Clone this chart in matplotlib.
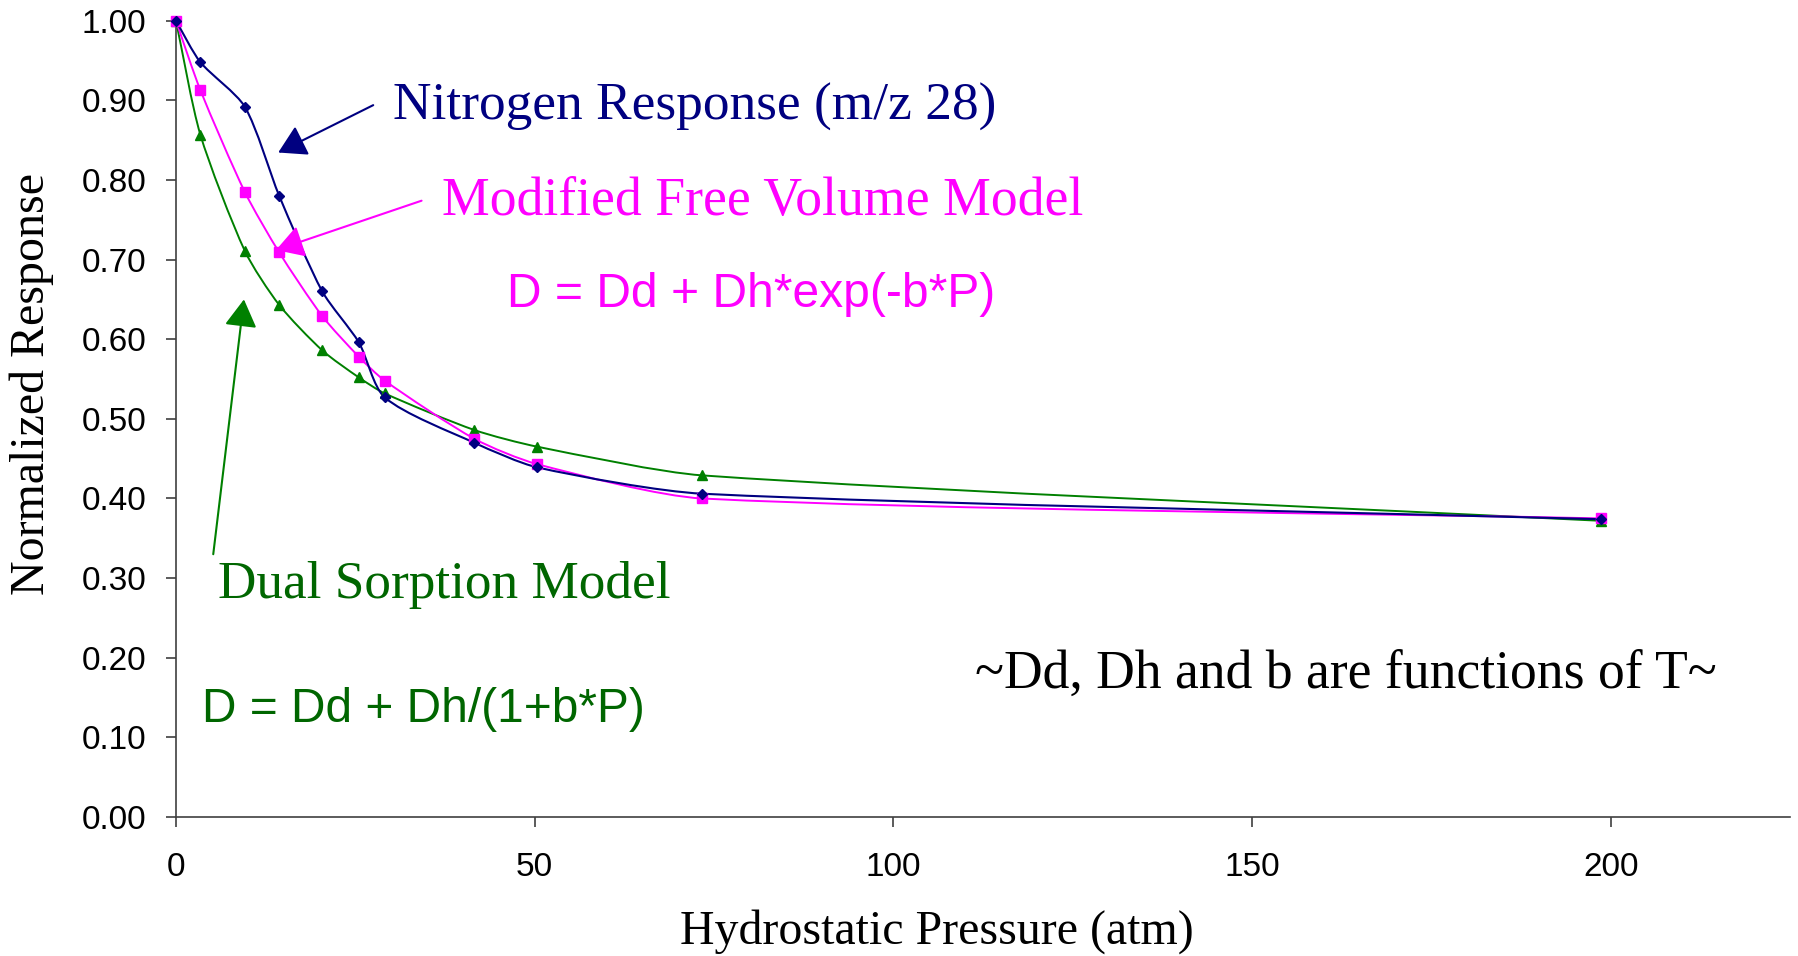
import matplotlib
matplotlib.use("Agg")
import matplotlib.pyplot as plt
import numpy as np
from matplotlib.path import Path
from matplotlib.patches import PathPatch

# --- data ---
pressure = [0, 3.4, 9.6, 14.4, 20.4, 25.5, 29.1, 41.6, 50.4, 73.4, 198.6]
nitrogen = [1.000, 0.948, 0.892, 0.780, 0.660, 0.596, 0.527, 0.470, 0.439, 0.406, 0.374]
free_volume = [1.000, 0.913, 0.785, 0.709, 0.629, 0.578, 0.548, 0.475, 0.443, 0.400, 0.375]
dual_sorption = [1.000, 0.857, 0.711, 0.643, 0.586, 0.552, 0.532, 0.486, 0.465, 0.429, 0.372]

y_ticks = [0.0, 0.1, 0.2, 0.3, 0.4, 0.5, 0.6, 0.7, 0.8, 0.9, 1.0]
x_ticks = [0, 50, 100, 150, 200]

NAVY = "#000080"
MAGENTA = "#FF00FF"
GREEN = "#008000"
GREEN_TXT = "#006600"
SERIF = "Liberation Serif"
SANS = "Liberation Sans"

fig = plt.figure(figsize=(17.99, 9.56), dpi=100)
ax = fig.add_axes([0.0978, 0.1454, 0.8972, 0.8329])
ax.set_xlim(0, 225)
ax.set_ylim(0, 1.0)


def smooth_line(xs, ys, color, lw, k=0.25):
    # Excel-style smoothed line: cubic bezier through the points
    sx, sy = 7.17, 796.0
    P = np.column_stack([np.array(xs) * sx, np.array(ys) * sy])
    n = len(P)
    tang = []
    for i in range(n):
        if i == 0:
            t = P[1] - P[0]
        elif i == n - 1:
            t = P[-1] - P[-2]
        else:
            t = P[i + 1] - P[i - 1]
        tang.append(t / np.linalg.norm(t))
    verts = [P[0]]
    codes = [Path.MOVETO]
    for i in range(n - 1):
        d = np.linalg.norm(P[i + 1] - P[i])
        c1 = P[i] + tang[i] * d * k
        c2 = P[i + 1] - tang[i + 1] * d * k
        verts += [c1, c2, P[i + 1]]
        codes += [Path.CURVE4] * 3
    verts = np.array(verts) / [sx, sy]
    ax.add_patch(PathPatch(Path(verts, codes), fill=False, edgecolor=color,
                           lw=lw, clip_on=False, zorder=2))


smooth_line(pressure, dual_sorption, GREEN, 1.4)
smooth_line(pressure, free_volume, MAGENTA, 1.4)
smooth_line(pressure, nitrogen, NAVY, 1.5)

ax.plot(pressure, dual_sorption, ls="none", marker="^", ms=7.5, color=GREEN, clip_on=False, zorder=3)
ax.plot(pressure, free_volume, ls="none", marker="s", ms=6.5, color=MAGENTA, clip_on=False, zorder=3)
ax.plot(pressure, nitrogen, ls="none", marker="D", ms=5.5, color=NAVY, clip_on=False, zorder=4)

# --- axes styling ---
for s in ["top", "right"]:
    ax.spines[s].set_visible(False)
for s in ["left", "bottom"]:
    ax.spines[s].set_color("#404040")
    ax.spines[s].set_linewidth(1.2)

ax.set_yticks(y_ticks)
ax.set_yticklabels([f"{v:.2f}" for v in y_ticks], fontsize=24, family=SANS)
ax.set_xticks(x_ticks)
ax.set_xticklabels([str(v) for v in x_ticks], fontsize=24, family=SANS)
ax.tick_params(axis="y", length=7.5, width=1.2, color="#404040", pad=14)
ax.tick_params(axis="x", length=7.5, width=1.2, color="#404040", pad=18)

fig.text(937 / 1799, 1 - 944 / 956, "Hydrostatic Pressure (atm)", fontsize=34.5,
         family=SERIF, ha="center", va="baseline")
fig.text(32 / 1799, 1 - 384 / 956, "Normalized Response", fontsize=34.5,
         family=SERIF, ha="center", va="center", rotation=90)

# --- annotations ---
fig.text(0.2185, 0.8745, "Nitrogen Response (m/z 28)", color=NAVY, fontsize=38.4,
         family=SERIF, ha="left", va="baseline")
fig.text(0.2455, 0.775, "Modified Free Volume Model", color=MAGENTA, fontsize=38.7,
         family=SERIF, ha="left", va="baseline")
fig.text(0.2818, 0.679, "D = Dd + Dh*exp(-b*P)", color=MAGENTA, fontsize=34.6,
         family=SANS, ha="left", va="baseline")
fig.text(0.1213, 0.374, "Dual Sorption Model", color=GREEN_TXT, fontsize=38.3,
         family=SERIF, ha="left", va="baseline")
fig.text(0.1121, 0.245, "D = Dd + Dh/(1+b*P)", color=GREEN_TXT, fontsize=34.5,
         family=SANS, ha="left", va="baseline")
fig.text(0.542, 0.2803, "~Dd, Dh and b are functions of T~", color="black", fontsize=38.6,
         family=SERIF, ha="left", va="baseline")

arrow_style = "-|>,head_length=0.85,head_width=0.5"
ax.annotate("", xy=(14.26, 0.8345), xytext=(27.5, 0.894),
            arrowprops=dict(arrowstyle=arrow_style, mutation_scale=20, color=NAVY,
                            lw=1.5, shrinkA=0, shrinkB=0), annotation_clip=False)
ax.annotate("", xy=(13.94, 0.712), xytext=(34.24, 0.774),
            arrowprops=dict(arrowstyle=arrow_style, mutation_scale=20, color=MAGENTA,
                            lw=1.5, shrinkA=0, shrinkB=0), annotation_clip=False)
ax.annotate("", xy=(9.48, 0.650), xytext=(5.2, 0.330),
            arrowprops=dict(arrowstyle=arrow_style, mutation_scale=20, color=GREEN,
                            lw=1.5, shrinkA=0, shrinkB=0), annotation_clip=False)

fig.savefig("out.png", dpi=100)
